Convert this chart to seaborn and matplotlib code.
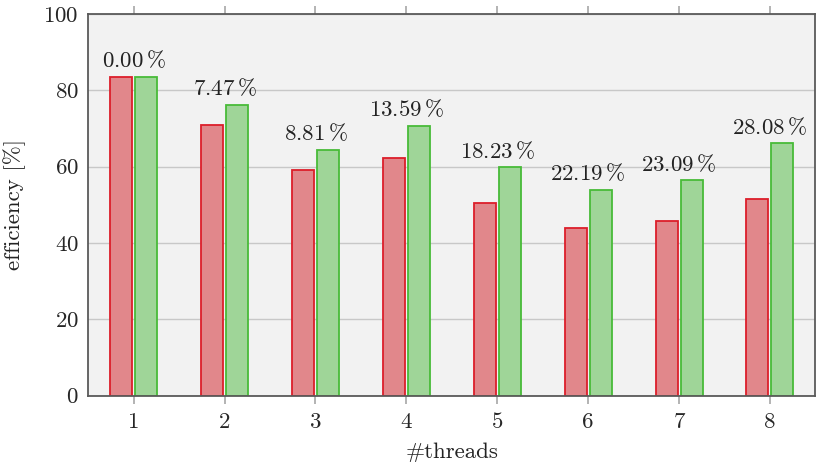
import numpy as np
import pandas as pd
import seaborn as sns
import matplotlib.pyplot as plt

# efficiency per thread count
threads = [1, 2, 3, 4, 5, 6, 7, 8]
eff_base = [83.6, 71.0, 59.2, 62.4, 50.6, 44.0, 45.7, 51.6]
eff_opt = [83.6, 76.3, 64.5, 70.8, 59.8, 53.9, 56.4, 66.1]
gain_labels = ["0.00", "7.47", "8.81", "13.59", "18.23", "22.19", "23.09", "28.08"]

df = pd.DataFrame({
    "threads": threads * 2,
    "efficiency": eff_base + eff_opt,
    "variant": ["base"] * len(threads) + ["opt"] * len(threads),
})

sns.set_theme(style="white")
plt.rcParams["font.family"] = ["cmr10", "DejaVu Serif"]
plt.rcParams["mathtext.fontset"] = "cm"
plt.rcParams["axes.formatter.use_mathtext"] = True

fig, ax = plt.subplots(figsize=(8.17, 4.71), dpi=100)
ax.set_facecolor("#f2f2f2")

sns.barplot(data=df, x="threads", y="efficiency", hue="variant",
            palette={"base": "#e1878b", "opt": "#9fd598"}, saturation=1,
            width=0.55, gap=0.12, linewidth=1.3, legend=False, ax=ax)

edges = {"base": "#dc1e2a", "opt": "#48bb38"}
n = len(threads)
for i, p in enumerate(ax.patches[:2 * n]):
    p.set_edgecolor(edges["base"] if i < n else edges["opt"])

# percentage gain above each pair, centred on the group
for i, p in enumerate(ax.patches[n:2 * n]):
    ax.text(i, p.get_height() + 2.5, gain_labels[i] + r"$\,$%",
            ha="center", va="baseline", fontsize=16.5, color="#222222")

ax.set_ylim(0, 100)
ax.set_xlim(-0.5, n - 0.5)
ax.set_yticks([0, 20, 40, 60, 80, 100])
ax.yaxis.grid(True, color="#c8c8c8", linewidth=1)
ax.set_axisbelow(True)

ax.tick_params(axis="x", which="both", direction="out", length=6, color="#aaaaaa",
               top=True, bottom=True, labelsize=16.5, pad=6)
ax.tick_params(axis="y", which="both", direction="in", length=0, labelsize=16.5, pad=7)
for s in ax.spines.values():
    s.set_color("#5a5a5a")
    s.set_linewidth(1.3)
    s.set_visible(True)

ax.set_xlabel("#threads", fontsize=16.5, color="#222222", labelpad=8)
ax.set_ylabel("efficiency [%]", fontsize=16.5, color="#222222", labelpad=12)

plt.subplots_adjust(left=0.108, right=0.998, bottom=0.16, top=0.97)
fig.savefig("out.png", dpi=100)
